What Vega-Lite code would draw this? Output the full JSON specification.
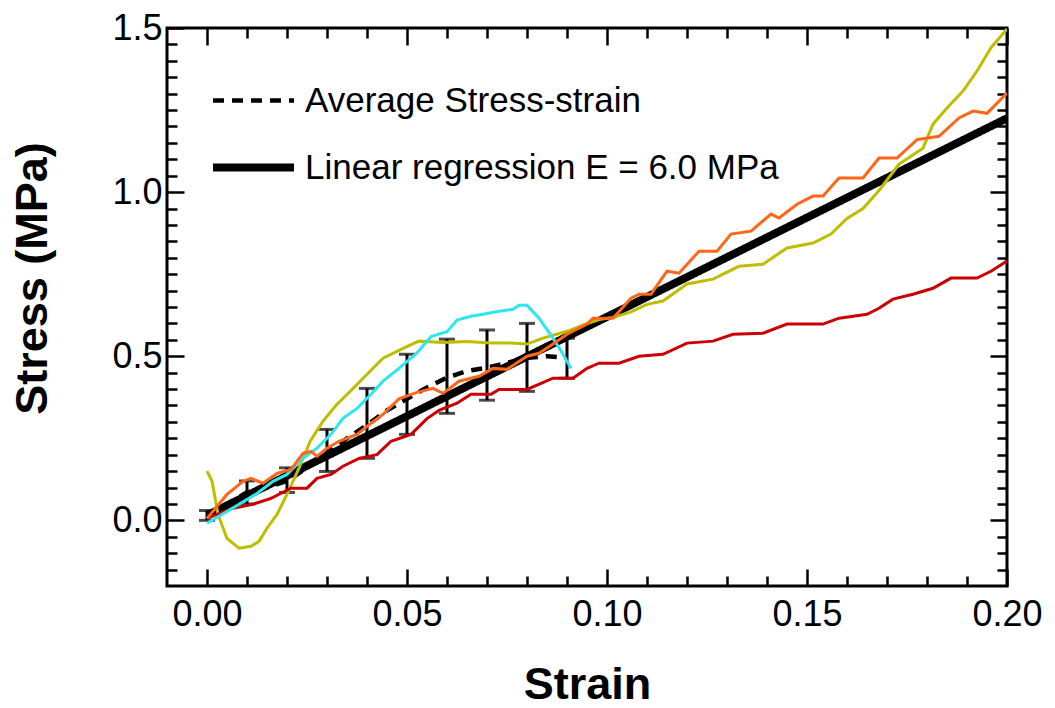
{
  "$schema": "https://vega.github.io/schema/vega-lite/v6.json",
  "autosize": "none",
  "width": 840,
  "height": 558,
  "padding": {"left": 167, "top": 28, "right": 48, "bottom": 122},
  "background": "white",
  "config": {
    "font": "Liberation Sans",
    "view": {"stroke": "black", "strokeWidth": 3},
    "axis": {
      "grid": false,
      "domain": false,
      "tickColor": "black",
      "tickWidth": 2.5,
      "labelColor": "black",
      "labelFontSize": 36,
      "labelFont": "Liberation Sans",
      "titleFont": "Liberation Sans",
      "titleFontSize": 45,
      "titleFontWeight": "bold",
      "titleColor": "black"
    }
  },
  "resolve": {"axis": {"x": "independent", "y": "independent"}},
  "datasets": {
    "reg": [
      {"x": 0, "y": 0.015, "series": "Linear regression E = 6.0 MPa"},
      {"x": 0.2, "y": 1.225, "series": "Linear regression E = 6.0 MPa"}
    ],
    "avg": [
      {"x": 0, "y": 0.015, "series": "Average Stress-strain"},
      {"x": 0.005, "y": 0.05, "series": "Average Stress-strain"},
      {"x": 0.01, "y": 0.085, "series": "Average Stress-strain"},
      {"x": 0.015, "y": 0.1, "series": "Average Stress-strain"},
      {"x": 0.02, "y": 0.12, "series": "Average Stress-strain"},
      {"x": 0.025, "y": 0.16, "series": "Average Stress-strain"},
      {"x": 0.03, "y": 0.205, "series": "Average Stress-strain"},
      {"x": 0.035, "y": 0.25, "series": "Average Stress-strain"},
      {"x": 0.04, "y": 0.29, "series": "Average Stress-strain"},
      {"x": 0.045, "y": 0.335, "series": "Average Stress-strain"},
      {"x": 0.05, "y": 0.37, "series": "Average Stress-strain"},
      {"x": 0.055, "y": 0.405, "series": "Average Stress-strain"},
      {"x": 0.06, "y": 0.435, "series": "Average Stress-strain"},
      {"x": 0.065, "y": 0.455, "series": "Average Stress-strain"},
      {"x": 0.07, "y": 0.465, "series": "Average Stress-strain"},
      {"x": 0.075, "y": 0.48, "series": "Average Stress-strain"},
      {"x": 0.08, "y": 0.495, "series": "Average Stress-strain"},
      {"x": 0.085, "y": 0.5, "series": "Average Stress-strain"},
      {"x": 0.09, "y": 0.495, "series": "Average Stress-strain"}
    ],
    "err": [
      {"x": 0, "lo": 0.0, "hi": 0.03},
      {"x": 0.01, "lo": 0.05, "hi": 0.12},
      {"x": 0.02, "lo": 0.085, "hi": 0.16},
      {"x": 0.03, "lo": 0.149, "hi": 0.277},
      {"x": 0.04, "lo": 0.189, "hi": 0.402},
      {"x": 0.05, "lo": 0.262, "hi": 0.506},
      {"x": 0.06, "lo": 0.326, "hi": 0.552},
      {"x": 0.07, "lo": 0.366, "hi": 0.58},
      {"x": 0.08, "lo": 0.393, "hi": 0.6},
      {"x": 0.09, "lo": 0.433, "hi": 0.555}
    ],
    "olive": [
      {"x": 0, "y": 0.15}, {"x": 0.00125, "y": 0.12}, {"x": 0.00275, "y": 0.018}, {"x": 0.005, "y": -0.055},
      {"x": 0.008, "y": -0.085}, {"x": 0.011, "y": -0.079}, {"x": 0.013, "y": -0.064}, {"x": 0.015, "y": -0.024},
      {"x": 0.0175, "y": 0.018}, {"x": 0.02, "y": 0.079}, {"x": 0.023, "y": 0.159}, {"x": 0.0258, "y": 0.241},
      {"x": 0.029, "y": 0.302}, {"x": 0.0325, "y": 0.354}, {"x": 0.0358, "y": 0.393}, {"x": 0.04, "y": 0.445},
      {"x": 0.044, "y": 0.494}, {"x": 0.049, "y": 0.524}, {"x": 0.053, "y": 0.546}, {"x": 0.059, "y": 0.542},
      {"x": 0.065, "y": 0.545}, {"x": 0.0708, "y": 0.54}, {"x": 0.076, "y": 0.54}, {"x": 0.08, "y": 0.537},
      {"x": 0.084, "y": 0.555}, {"x": 0.09, "y": 0.576}, {"x": 0.094, "y": 0.595}, {"x": 0.098, "y": 0.612},
      {"x": 0.1015, "y": 0.618}, {"x": 0.106, "y": 0.635}, {"x": 0.11, "y": 0.658}, {"x": 0.114, "y": 0.668},
      {"x": 0.12, "y": 0.72}, {"x": 0.1265, "y": 0.735}, {"x": 0.133, "y": 0.774}, {"x": 0.139, "y": 0.78},
      {"x": 0.145, "y": 0.83}, {"x": 0.1515, "y": 0.845}, {"x": 0.156, "y": 0.872}, {"x": 0.16, "y": 0.92},
      {"x": 0.164, "y": 0.95}, {"x": 0.168, "y": 1.005}, {"x": 0.173, "y": 1.085}, {"x": 0.179, "y": 1.134},
      {"x": 0.1815, "y": 1.207}, {"x": 0.185, "y": 1.256}, {"x": 0.189, "y": 1.308}, {"x": 0.1925, "y": 1.369},
      {"x": 0.196, "y": 1.44}, {"x": 0.2, "y": 1.497}
    ],
    "red": [
      {"x": 0, "y": 0.006}, {"x": 0.0065, "y": 0.037}, {"x": 0.0115, "y": 0.049}, {"x": 0.016, "y": 0.067},
      {"x": 0.021, "y": 0.098}, {"x": 0.025, "y": 0.098}, {"x": 0.0275, "y": 0.128}, {"x": 0.031, "y": 0.14},
      {"x": 0.034, "y": 0.165}, {"x": 0.038, "y": 0.189}, {"x": 0.0425, "y": 0.2}, {"x": 0.046, "y": 0.241},
      {"x": 0.051, "y": 0.262}, {"x": 0.055, "y": 0.31}, {"x": 0.058, "y": 0.335}, {"x": 0.0625, "y": 0.357},
      {"x": 0.066, "y": 0.384}, {"x": 0.071, "y": 0.384}, {"x": 0.073, "y": 0.399}, {"x": 0.08, "y": 0.399},
      {"x": 0.0865, "y": 0.433}, {"x": 0.0915, "y": 0.433}, {"x": 0.095, "y": 0.463}, {"x": 0.098, "y": 0.479},
      {"x": 0.103, "y": 0.479}, {"x": 0.108, "y": 0.5}, {"x": 0.114, "y": 0.506}, {"x": 0.12, "y": 0.54},
      {"x": 0.1265, "y": 0.546}, {"x": 0.1315, "y": 0.567}, {"x": 0.139, "y": 0.57}, {"x": 0.145, "y": 0.598},
      {"x": 0.154, "y": 0.598}, {"x": 0.158, "y": 0.616}, {"x": 0.165, "y": 0.628}, {"x": 0.168, "y": 0.646},
      {"x": 0.1715, "y": 0.674}, {"x": 0.1765, "y": 0.689}, {"x": 0.1815, "y": 0.707}, {"x": 0.186, "y": 0.738},
      {"x": 0.1925, "y": 0.738}, {"x": 0.196, "y": 0.759}, {"x": 0.2, "y": 0.79}
    ],
    "cyan": [
      {"x": 0, "y": -0.009}, {"x": 0.005, "y": 0.027}, {"x": 0.008, "y": 0.049}, {"x": 0.0125, "y": 0.082},
      {"x": 0.0165, "y": 0.119}, {"x": 0.02, "y": 0.14}, {"x": 0.024, "y": 0.189}, {"x": 0.0275, "y": 0.22},
      {"x": 0.031, "y": 0.262}, {"x": 0.034, "y": 0.311}, {"x": 0.0375, "y": 0.341}, {"x": 0.041, "y": 0.384},
      {"x": 0.044, "y": 0.424}, {"x": 0.048, "y": 0.463}, {"x": 0.0525, "y": 0.51}, {"x": 0.056, "y": 0.56},
      {"x": 0.06, "y": 0.575}, {"x": 0.0625, "y": 0.61}, {"x": 0.066, "y": 0.622}, {"x": 0.069, "y": 0.628},
      {"x": 0.073, "y": 0.637}, {"x": 0.0765, "y": 0.643}, {"x": 0.078, "y": 0.655}, {"x": 0.08, "y": 0.655},
      {"x": 0.083, "y": 0.616}, {"x": 0.0865, "y": 0.555}, {"x": 0.089, "y": 0.506}, {"x": 0.091, "y": 0.463}
    ],
    "orange": [
      {"x": 0, "y": 0.006}, {"x": 0.005, "y": 0.079}, {"x": 0.009, "y": 0.119}, {"x": 0.011, "y": 0.128},
      {"x": 0.014, "y": 0.113}, {"x": 0.0175, "y": 0.143}, {"x": 0.021, "y": 0.155}, {"x": 0.024, "y": 0.204},
      {"x": 0.026, "y": 0.21}, {"x": 0.0275, "y": 0.195}, {"x": 0.03, "y": 0.22}, {"x": 0.033, "y": 0.241},
      {"x": 0.0375, "y": 0.262}, {"x": 0.041, "y": 0.296}, {"x": 0.044, "y": 0.323}, {"x": 0.048, "y": 0.37},
      {"x": 0.0525, "y": 0.39}, {"x": 0.0565, "y": 0.402}, {"x": 0.059, "y": 0.387}, {"x": 0.063, "y": 0.424},
      {"x": 0.068, "y": 0.439}, {"x": 0.0715, "y": 0.463}, {"x": 0.075, "y": 0.46}, {"x": 0.08, "y": 0.5},
      {"x": 0.083, "y": 0.509}, {"x": 0.0865, "y": 0.537}, {"x": 0.09, "y": 0.567}, {"x": 0.095, "y": 0.598},
      {"x": 0.0965, "y": 0.616}, {"x": 0.1015, "y": 0.616}, {"x": 0.106, "y": 0.677}, {"x": 0.108, "y": 0.689},
      {"x": 0.111, "y": 0.689}, {"x": 0.115, "y": 0.759}, {"x": 0.118, "y": 0.753}, {"x": 0.123, "y": 0.82},
      {"x": 0.1275, "y": 0.82}, {"x": 0.131, "y": 0.872}, {"x": 0.136, "y": 0.881}, {"x": 0.141, "y": 0.933},
      {"x": 0.143, "y": 0.921}, {"x": 0.1475, "y": 0.963}, {"x": 0.1515, "y": 0.988}, {"x": 0.154, "y": 0.988},
      {"x": 0.158, "y": 1.043}, {"x": 0.164, "y": 1.043}, {"x": 0.168, "y": 1.104}, {"x": 0.1725, "y": 1.104},
      {"x": 0.1775, "y": 1.16}, {"x": 0.183, "y": 1.17}, {"x": 0.188, "y": 1.226}, {"x": 0.1915, "y": 1.247},
      {"x": 0.195, "y": 1.24}, {"x": 0.2, "y": 1.302}
    ]
  },
  "layer": [
    {
      "data": {"name": "reg"},
      "mark": {"type": "line", "color": "black", "strokeWidth": 8, "clip": true},
      "encoding": {
        "x": {"field": "x", "type": "quantitative", "scale": {"domain": [-0.01, 0.2], "nice": false, "zero": false},
          "axis": {"orient": "bottom", "values": [0, 0.05, 0.1, 0.15, 0.2], "format": ".2f", "ticks": false, "labelPadding": 39, "labelBaseline": "alphabetic", "labelFlush": false, "labelOverlap": false, "title": "Strain", "titleY": 112, "titleBaseline": "alphabetic"}},
        "y": {"field": "y", "type": "quantitative", "scale": {"domain": [-0.2, 1.5], "nice": false, "zero": false},
          "axis": {"orient": "left", "values": [0, 0.5, 1, 1.5], "format": ".1f", "ticks": false, "labelPadding": 5, "labelFlush": false, "labelOverlap": false, "title": "Stress (MPa)", "titleX": -121, "titleY": 250, "titleAngle": 270, "titleBaseline": "alphabetic"}},
        "strokeDash": {"field": "series", "type": "nominal",
          "scale": {"domain": ["Average Stress-strain", "Linear regression E = 6.0 MPa"], "range": [[11, 8], [1, 0]]},
          "legend": {"orient": "none", "legendX": 69, "legendY": 55, "title": null, "padding": 0, "offset": 0,
            "symbolType": "M-4,0H4", "symbolSize": 410, "symbolStrokeColor": "black", "labelFontSize": 35, "labelFont": "Liberation Sans", "labelColor": "black", "labelOffset": 34, "rowPadding": 31, "labelLimit": 800,
            "encode": {"symbols": {"update": {"strokeWidth": {"signal": "datum.value === 'Average Stress-strain' ? 4.5 : 8"}, "stroke": {"value": "black"}}}}}}
      }
    },
    {
      "data": {"name": "avg"},
      "mark": {"type": "line", "color": "black", "strokeWidth": 4.5, "clip": true},
      "encoding": {
        "x": {"field": "x", "type": "quantitative", "scale": {"domain": [-0.01, 0.2], "nice": false, "zero": false},
          "axis": {"orient": "bottom", "values": [0, 0.05, 0.1, 0.15, 0.2], "labels": false, "ticks": true, "tickSize": -17, "title": null}},
        "y": {"field": "y", "type": "quantitative", "scale": {"domain": [-0.2, 1.5], "nice": false, "zero": false},
          "axis": {"orient": "left", "values": [0, 0.5, 1, 1.5], "labels": false, "ticks": true, "tickSize": -17, "title": null}},
        "strokeDash": {"field": "series", "type": "nominal"}
      }
    },
    {
      "data": {"name": "err"},
      "mark": {"type": "rule", "color": "black", "strokeWidth": 3},
      "encoding": {
        "x": {"field": "x", "type": "quantitative", "scale": {"domain": [-0.01, 0.2], "nice": false, "zero": false},
          "axis": {"orient": "bottom", "values": [0.01, 0.02, 0.03, 0.04, 0.06, 0.07, 0.08, 0.09, 0.11, 0.12, 0.13, 0.14, 0.16, 0.17, 0.18, 0.19], "labels": false, "ticks": true, "tickSize": -10, "title": null}},
        "y": {"field": "lo", "type": "quantitative", "scale": {"domain": [-0.2, 1.5], "nice": false, "zero": false},
          "axis": {"orient": "left", "values": [-0.15, -0.1, -0.05, 0.05, 0.1, 0.15, 0.2, 0.25, 0.3, 0.35, 0.4, 0.45, 0.55, 0.6, 0.65, 0.7, 0.75, 0.8, 0.85, 0.9, 0.95, 1.05, 1.1, 1.15, 1.2, 1.25, 1.3, 1.35, 1.4, 1.45], "labels": false, "ticks": true, "tickSize": -10, "title": null}},
        "y2": {"field": "hi"}
      }
    },
    {
      "data": {"name": "err"},
      "mark": {"type": "tick", "orient": "horizontal", "color": "black", "size": 16, "thickness": 3},
      "encoding": {
        "x": {"field": "x", "type": "quantitative", "scale": {"domain": [-0.01, 0.2], "nice": false, "zero": false},
          "axis": {"orient": "top", "values": [0, 0.05, 0.1, 0.15, 0.2], "labels": false, "ticks": true, "tickSize": -17, "title": null}},
        "y": {"field": "hi", "type": "quantitative", "scale": {"domain": [-0.2, 1.5], "nice": false, "zero": false},
          "axis": {"orient": "right", "values": [0, 0.5, 1, 1.5], "labels": false, "ticks": true, "tickSize": -17, "title": null}}
      }
    },
    {
      "data": {"name": "err"},
      "mark": {"type": "tick", "orient": "horizontal", "color": "black", "size": 16, "thickness": 3},
      "encoding": {
        "x": {"field": "x", "type": "quantitative", "scale": {"domain": [-0.01, 0.2], "nice": false, "zero": false},
          "axis": {"orient": "top", "values": [0.01, 0.02, 0.03, 0.04, 0.06, 0.07, 0.08, 0.09, 0.11, 0.12, 0.13, 0.14, 0.16, 0.17, 0.18, 0.19], "labels": false, "ticks": true, "tickSize": -10, "title": null}},
        "y": {"field": "lo", "type": "quantitative", "scale": {"domain": [-0.2, 1.5], "nice": false, "zero": false},
          "axis": {"orient": "right", "values": [-0.15, -0.1, -0.05, 0.05, 0.1, 0.15, 0.2, 0.25, 0.3, 0.35, 0.4, 0.45, 0.55, 0.6, 0.65, 0.7, 0.75, 0.8, 0.85, 0.9, 0.95, 1.05, 1.1, 1.15, 1.2, 1.25, 1.3, 1.35, 1.4, 1.45], "labels": false, "ticks": true, "tickSize": -10, "title": null}}
      }
    },
    {
      "data": {"name": "olive"},
      "mark": {"type": "line", "color": "#BEBE00", "strokeWidth": 3, "clip": true},
      "encoding": {
        "x": {"field": "x", "type": "quantitative", "scale": {"domain": [-0.01, 0.2], "nice": false, "zero": false}, "axis": null},
        "y": {"field": "y", "type": "quantitative", "scale": {"domain": [-0.2, 1.5], "nice": false, "zero": false}, "axis": null}
      }
    },
    {
      "data": {"name": "red"},
      "mark": {"type": "line", "color": "#CC0000", "strokeWidth": 3, "clip": true},
      "encoding": {
        "x": {"field": "x", "type": "quantitative", "scale": {"domain": [-0.01, 0.2], "nice": false, "zero": false}, "axis": null},
        "y": {"field": "y", "type": "quantitative", "scale": {"domain": [-0.2, 1.5], "nice": false, "zero": false}, "axis": null}
      }
    },
    {
      "data": {"name": "cyan"},
      "mark": {"type": "line", "color": "#2EE6F2", "strokeWidth": 3, "clip": true},
      "encoding": {
        "x": {"field": "x", "type": "quantitative", "scale": {"domain": [-0.01, 0.2], "nice": false, "zero": false}, "axis": null},
        "y": {"field": "y", "type": "quantitative", "scale": {"domain": [-0.2, 1.5], "nice": false, "zero": false}, "axis": null}
      }
    },
    {
      "data": {"name": "orange"},
      "mark": {"type": "line", "color": "#FF6619", "strokeWidth": 3, "clip": true},
      "encoding": {
        "x": {"field": "x", "type": "quantitative", "scale": {"domain": [-0.01, 0.2], "nice": false, "zero": false}, "axis": null},
        "y": {"field": "y", "type": "quantitative", "scale": {"domain": [-0.2, 1.5], "nice": false, "zero": false}, "axis": null}
      }
    }
  ]
}
